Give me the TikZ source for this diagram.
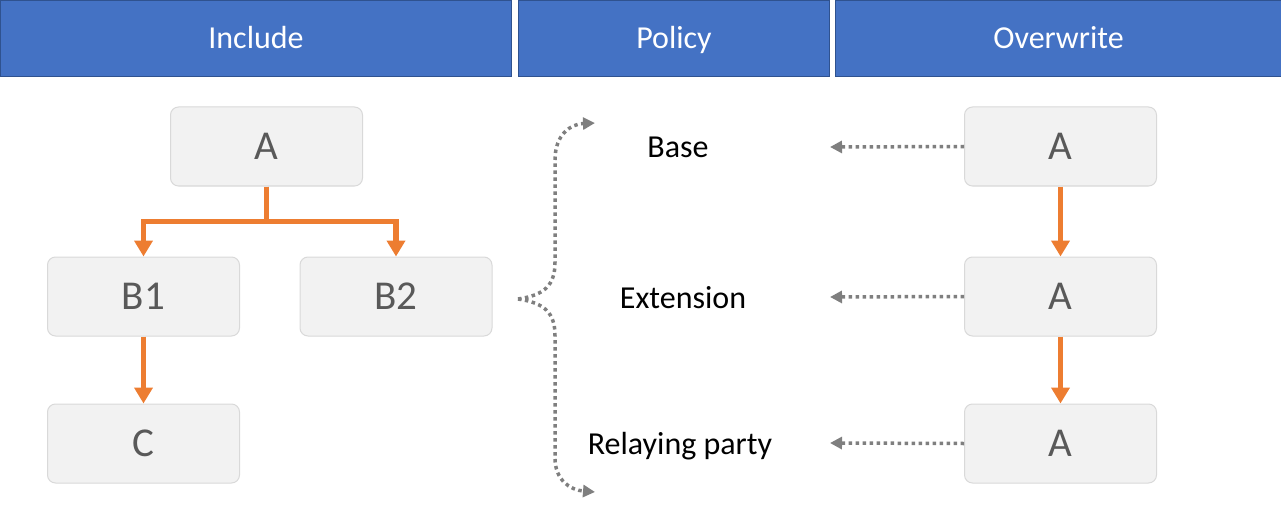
\documentclass[tikz,border=0pt]{standalone}
\usepackage{fontspec}
\setmainfont{Carlito}
\usetikzlibrary{arrows.meta}
\definecolor{hdrfill}{HTML}{4472C4}
\definecolor{hdrline}{HTML}{2F528F}
\definecolor{boxfill}{HTML}{F2F2F2}
\definecolor{boxline}{HTML}{D9D9D9}
\definecolor{boxtext}{HTML}{595959}
\definecolor{orng}{HTML}{ED7D31}
\definecolor{dotgray}{HTML}{7F7F7F}
\tikzset{
  hdr/.style={draw=hdrline, fill=hdrfill, line width=1.2pt, text=white, font=\fontsize{32}{38}\selectfont, text height=20.6pt, text depth=0pt, minimum height=76pt, inner sep=0pt},
  gbox/.style={draw=boxline, fill=boxfill, line width=1pt, rounded corners=8pt, minimum width=192pt, minimum height=79pt, text=boxtext, font=\fontsize{41}{46}\selectfont, text height=26.4pt, text depth=0pt, inner sep=0pt},
  lbl/.style={text=black, font=\fontsize{32}{38}\selectfont, text height=20.6pt, text depth=0pt, inner sep=0pt},
  oarrow/.style={draw=orng, line width=5.5pt, -{Triangle[length=16pt,width=18pt]}},
  darrow/.style={draw=dotgray, line width=3.5pt, dash pattern=on 3.5pt off 3.5pt, -{Triangle[length=12pt,width=12pt]}},
}
\begin{document}
\begin{tikzpicture}[x=1pt,y=-1pt]
\useasboundingbox (0,0) rectangle (1281,505);
% headers
\node[hdr, minimum width=511pt] (h1) at (256,38.5) {Include};
\node[hdr, minimum width=311pt] (h2) at (674,38.5) {Policy};
\node[hdr, minimum width=446pt] (h3) at (1058.5,38.5) {Overwrite};
% include tree
\node[gbox] (A) at (266.5,146.5) {A};
\node[gbox] (B1) at (143.5,296.5) {B1};
\node[gbox] (B2) at (396,296.5) {B2};
\node[gbox] (C) at (143.5,443.5) {C};
\draw[oarrow] (A.south) -- ++(0,35) -| (B1.north);
\draw[oarrow] (A.south) -- ++(0,35) -| (B2.north);
\draw[oarrow] (B1.south) -- (C.north);
% policy labels
\node[lbl] (base) at (678,147) {Base};
\node[lbl] (ext) at (683,298) {Extension};
\node[lbl] (rp) at (680,444.5) {Relaying party};
% overwrite column
\node[gbox] (O1) at (1060.5,146.5) {A};
\node[gbox] (O2) at (1060.5,296.5) {A};
\node[gbox] (O3) at (1060.5,443.5) {A};
\draw[oarrow] (O1.south) -- (O2.north);
\draw[oarrow] (O2.south) -- (O3.north);
\coordinate (t1) at (830,147);
\coordinate (t2) at (830,297);
\coordinate (t3) at (830,443);
\draw[darrow] (O1.west) -- (t1);
\draw[darrow] (O2.west) -- (t2);
\draw[darrow] (O3.west) -- (t3);
% brace
\coordinate (tip) at (518,299);
\coordinate (bt) at (595,123);
\coordinate (bb) at (595,492);
\draw[darrow] (tip) .. controls (545,295) and (555,285) .. (555,262) -- (555,160) .. controls (555,135) and (570,124) .. (bt);
\draw[darrow] (tip) .. controls (545,303) and (555,313) .. (555,336) -- (555,458) .. controls (555,480) and (570,490) .. (bb);
\end{tikzpicture}
\end{document}
